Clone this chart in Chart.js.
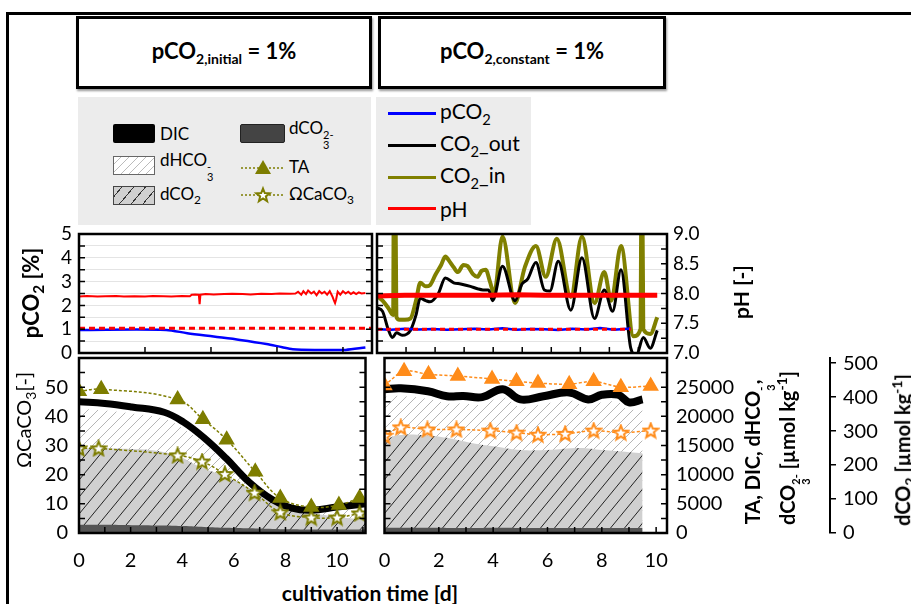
<!DOCTYPE html>
<html>
<head>
<meta charset="utf-8">
<script src="https://cdn.jsdelivr.net/npm/chart.js@4.4.1/dist/chart.umd.min.js"></script>
<style>
body { margin: 0; width: 911px; height: 604px; overflow: hidden; background: #fff; position: relative; font-family: Lato, "Open Sans", sans-serif; color: #000; }
.abs { position: absolute; }
canvas { position: absolute; }
.frame { left: 6px; top: 12px; width: 930px; height: 620px; border-left: 3px solid #000; border-top: 3px solid #000; }
.tbox { top: 16px; height: 67px; border: 3px solid #000; box-shadow: 1px 2px 2px #999; display: flex; align-items: center; justify-content: center; font-weight: bold; font-size: 22px; background: #fff; }
.tbox sub { font-size: 14px; }
.leg { top: 97px; height: 128px; background: #ececec; }
.sw { width: 42px; height: 19px; box-sizing: border-box; }
.lt { font-size: 17px; transform: translateY(-50%); white-space: nowrap; }
.rt { font-size: 21px; transform: translateY(-50%); white-space: nowrap; }
.ln { width: 48px; height: 3px; }
.ss { display: inline-flex; flex-direction: column; font-size: 11px; line-height: 10px; vertical-align: -5px; }
.rot { transform: translate(-50%, -50%) rotate(-90deg); white-space: nowrap; font-weight: bold; }
sub, sup { font-size: 70%; }
</style>
</head>
<body>
<div class="abs frame"></div>
<div class="abs tbox" style="left:76px;width:290px"><span>pCO<sub>2,initial</sub> = 1%</span></div>
<div class="abs tbox" style="left:378px;width:282px"><span>pCO<sub>2,constant</sub> = 1%</span></div>

<div class="abs leg" style="left:78px;width:293px"></div>
<div class="abs leg" style="left:376px;width:155px"></div>

<div class="abs sw" style="left:113px;top:124px;background:#000;border-radius:2px"></div>
<div class="abs lt" style="left:160px;top:133px">DIC</div>
<div class="abs sw" style="left:113px;top:156px;border:1.5px solid #666;background:repeating-linear-gradient(-45deg,#fff 0 5px,#bbb 5px 6px)"></div>
<div class="abs lt" style="left:160px;top:165px">dHCO<span class="ss"><span>-</span><span>3</span></span></div>
<div class="abs sw" style="left:113px;top:186px;border:1.5px solid #444;background:repeating-linear-gradient(-50deg,#d0d0d0 0 8px,#333 8px 9px)"></div>
<div class="abs lt" style="left:160px;top:195px">dCO<sub>2</sub></div>
<div class="abs sw" style="left:240px;top:124px;width:45px;background:#444;border:1px solid #222;border-radius:2px"></div>
<div class="abs lt" style="left:289px;top:133px">dCO<span class="ss"><span>2-</span><span>3</span></span></div>
<svg class="abs" style="left:240px;top:157px" width="46" height="20">
  <line x1="1" y1="11" x2="45" y2="11" stroke="#7d7d00" stroke-width="1.5" stroke-dasharray="2,2"/>
  <polygon points="23,3 31,17 15,17" fill="#7d7d00"/>
</svg>
<div class="abs lt" style="left:289px;top:166px">TA</div>
<svg class="abs" style="left:240px;top:185px" width="46" height="20">
  <line x1="1" y1="10" x2="45" y2="10" stroke="#7d7d00" stroke-width="1.5" stroke-dasharray="2,2"/>
  <polygon transform="translate(23,10.5)" points="0,-7 1.76,-2.43 6.66,-2.16 2.85,0.93 4.11,5.66 0,3 -4.11,5.66 -2.85,0.93 -6.66,-2.16 -1.76,-2.43" fill="#fff" stroke="#7d7d00" stroke-width="2"/>
</svg>
<div class="abs lt" style="left:289px;top:195px">ΩCaCO<sub>3</sub></div>

<div class="abs ln" style="left:388px;top:112px;background:#0000ff"></div>
<div class="abs rt" style="left:440px;top:113px">pCO<sub>2</sub></div>
<div class="abs ln" style="left:388px;top:144px;background:#000"></div>
<div class="abs rt" style="left:440px;top:145px">CO<sub>2</sub>_out</div>
<div class="abs ln" style="left:388px;top:176px;background:#808000"></div>
<div class="abs rt" style="left:440px;top:177px">CO<sub>2</sub>_in</div>
<div class="abs ln" style="left:388px;top:207px;background:#ff0000"></div>
<div class="abs rt" style="left:440px;top:208px">pH</div>

<canvas id="cBL" width="375" height="234" style="left:0;top:338px"></canvas>
<canvas id="cBR" width="536" height="234" style="left:375px;top:338px"></canvas>
<canvas id="cTL" width="375" height="150" style="left:0;top:218px"></canvas>
<canvas id="cTR" width="375" height="150" style="left:375px;top:218px"></canvas>

<div class="abs rot" style="left:32px;top:293px;font-size:22px">pCO<sub>2</sub> [%]</div>
<div class="abs rot" style="left:25px;top:420px;font-size:20px;font-weight:normal">ΩCaCO<sub>3</sub>[-]</div>
<div class="abs rot" style="left:740px;top:292px;font-size:21px">pH [-]</div>
<div class="abs rot" style="left:758px;top:452px;font-size:20px">TA, DIC, dHCO<span class="ss"><span>-</span><span>3</span></span>,</div>
<div class="abs rot" style="left:792px;top:448px;font-size:20px">dCO<span class="ss"><span>2-</span><span>3</span></span> [µmol kg<sup>-1</sup>]</div>
<div class="abs rot" style="left:903px;top:450px;font-size:20px">dCO<sub>2</sub> [µmol kg<sup>-1</sup>]</div>
<div class="abs" style="left:370px;top:592px;transform:translate(-50%,-50%);font-weight:bold;font-size:21px;white-space:nowrap">cultivation time [d]</div>

<script>
// top left panel: pCO2,initial = 1%
const tlPco2Day = [0, 3.3, 4.1, 5.1, 6.1, 7.1, 7.7, 8.1, 9.0, 10.1, 10.85];
const tlPco2 = [0.97, 0.97, 0.83, 0.69, 0.55, 0.38, 0.24, 0.16, 0.13, 0.13, 0.23];
const tlSetDay = [0, 11.1];
const tlSet = [1.04, 1.04];
const tlPhDay = [0, 0.3, 0.7, 1.0, 1.4, 1.7, 2.1, 2.5, 2.8, 3.2,
  3.5, 3.9, 4.2, 4.27, 4.4, 4.54, 4.57, 4.6, 4.8, 5.1,
  5.5, 5.8, 6.2, 6.5, 6.9, 7.3, 7.6, 8.0, 8.2, 8.3,
  8.42, 8.5, 8.6, 8.68, 8.8, 8.9, 9.0, 9.1, 9.2, 9.3,
  9.4, 9.5, 9.6, 9.66, 9.7, 9.74, 9.8, 9.9, 10.0, 10.1,
  10.2, 10.3, 10.4, 10.5, 10.6, 10.7, 10.85];
const tlPh = [7.95, 7.96, 7.95, 7.955, 7.96, 7.95, 7.955, 7.95, 7.96, 7.955,
  7.95, 7.96, 7.955, 7.98, 7.985, 7.98, 7.82, 7.98, 7.99, 7.985,
  7.99, 7.995, 7.99, 7.985, 7.995, 7.99, 8.0, 7.995, 8.0, 8.03,
  7.98, 8.04, 7.99, 8.05, 8.0, 8.03, 7.97, 8.04, 8.0, 8.03,
  7.98, 8.04, 7.95, 7.88, 7.84, 7.9, 8.03, 7.98, 8.04, 8.0,
  8.03, 7.99, 8.02, 7.99, 8.02, 8.0, 8.01];

// top right panel: pCO2,constant = 1%
const trPhDay = [0, 1, 2, 3, 4, 5, 6, 7, 8, 9, 10.05];
const trPh = [7.96, 7.97, 7.97, 7.97, 7.97, 7.98, 7.97, 7.97, 7.97, 7.97, 7.97];
const trPco2Day = [0, 0.5, 1, 1.5, 2, 2.5, 3, 3.5, 4, 4.5, 5, 5.5, 6, 6.5, 7, 7.5, 8, 8.5, 9.1];
const trPco2 = [1.0, 0.98, 1.02, 0.99, 1.01, 0.98, 1.0, 1.02, 0.99, 1.04, 0.98, 1.01, 1.0, 0.97, 1.02, 0.99, 1.05, 0.98, 1.03];
const trSetDay = [0, 9.1];
const trSet = [1.0, 1.0];
const trInDay = [0, 0.2, 0.4, 0.58, 0.6, 0.66, 0.7, 0.8, 1.0, 1.2, 1.4, 1.55, 1.75, 1.9, 2.1, 2.3, 2.45, 2.6, 2.75, 2.9,
  3.1, 3.25, 3.45, 3.6, 3.75, 3.9, 4.05, 4.2, 4.5, 4.95, 5.3, 5.7, 6.05, 6.45, 6.95, 7.35, 7.8, 8.15, 8.4, 8.75,
  9.2, 9.45, 9.48, 9.52, 9.55, 9.8, 10.05];
const trIn = [2.4, 2.2, 1.9, 1.6, 6, 6, 1.5, 1.4, 1.4, 1.45, 2.2, 2.95, 2.8, 2.85, 3.3, 3.7, 4.05, 3.85, 3.6, 3.4,
  3.7, 3.65, 3.3, 3.2, 3.45, 3.5, 3.0, 2.5, 4.9, 2.1, 3.6, 4.5, 3.2, 4.8, 2.35, 4.9, 2.1, 3.4, 2.2, 4.5,
  0.7, 1.0, 6, 6, 1.0, 0.8, 1.5];
const trOutDay = [0, 0.2, 0.4, 0.55, 0.7, 0.9, 1.2, 1.4, 1.55, 1.75, 1.9, 2.2, 2.45, 2.75, 3.0, 3.35, 3.6, 3.8, 4.0, 4.15,
  4.5, 4.95, 5.2, 5.4, 5.7, 6.0, 6.2, 6.5, 6.95, 7.35, 7.8, 8.15, 8.45, 8.75, 9.1, 9.3, 9.55, 9.8, 10.05];
const trOut = [1.9, 1.75, 1.0, 0.65, 0.85, 0.75, 0.95, 1.6, 2.3, 2.2, 2.15, 2.5, 3.15, 2.95, 2.9, 2.8, 2.7, 2.65, 2.65, 2.2,
  3.65, 2.2, 2.9, 3.1, 3.8, 2.65, 2.6, 3.85, 1.8, 4.0, 1.45, 2.65, 1.75, 3.5, 0.2, -0.1, 0.65, 0.2, 0.95];

// bottom left panel (umol/kg, dCO2 on its own axis, Omega unitless)
const blDicDay = [0, 1, 2.05, 3.3, 4.05, 4.85, 5.7, 6.6, 7.5, 8.25, 9.0, 10.0, 11.1];
const blDic = [22500, 22200, 21600, 20700, 19000, 16300, 12800, 8700, 5700, 4250, 3900, 4450, 5000];
const blHco3 = [21300, 21000, 20500, 19600, 17900, 15300, 11900, 7900, 5000, 3600, 3300, 3800, 4300];
const blCo3 = [1400, 1400, 1350, 1300, 1200, 1050, 900, 800, 700, 650, 600, 600, 600];
const blCo2Day = [0, 1, 3.5, 4.8, 5.8, 6.6, 7.5, 8.5, 9.5, 11.1];
const blCo2 = [250, 250, 235, 191, 162, 132, 88, 68, 53, 38];
const blTaDay = [0, 0.86, 3.82, 4.8, 5.72, 6.83, 7.8, 9.0, 10.07, 10.87];
const blTa = [24300, 24650, 22900, 19500, 16000, 10500, 6000, 4450, 4800, 6000];
const blOmDay = [0, 0.76, 3.82, 4.77, 5.65, 6.8, 7.8, 9.0, 10.0, 10.87];
const blOm = [29, 29, 26.6, 24.5, 20.2, 13.8, 7.1, 5.3, 5.3, 6.7];

// bottom right panel
const brDicDay = [0, 0.6, 1.6, 2.3, 2.9, 3.6, 4.35, 5.0, 5.85, 6.8, 7.5, 8.0, 8.6, 9.0, 9.5];
const brDic = [24650, 24800, 24300, 23450, 23500, 23300, 24650, 22900, 23450, 24100, 22900, 23700, 23700, 22400, 22900];
const brHco3 = [23300, 23500, 23000, 22200, 22200, 22000, 23300, 21600, 22100, 22800, 21600, 22400, 22400, 21100, 21600];
const brCo3 = [900, 900, 880, 870, 870, 860, 880, 850, 860, 870, 850, 860, 860, 840, 850];
const brCo2Day = [0, 0.5, 1.5, 2.3, 3.2, 4.2, 5.0, 6.0, 7.2, 8.0, 9.0, 9.5];
const brCo2 = [274, 288, 288, 280, 265, 253, 244, 244, 250, 244, 238, 235];
const brTaDay = [0, 0.72, 1.62, 2.7, 3.96, 4.86, 5.65, 6.8, 7.7, 8.7, 9.8];
const brTa = [25300, 27750, 27200, 26900, 26400, 26000, 25700, 25500, 26000, 25000, 25200];
const brOmDay = [0, 0.6, 1.58, 2.65, 3.9, 4.86, 5.65, 6.65, 7.7, 8.7, 9.8];
const brOm = [33.3, 36.2, 35.5, 35.5, 35.1, 34.4, 33.7, 34, 35.1, 34.4, 35.1];

const OLIVE = '#7d7d00';
const ORANGE = '#ff8c1a';

Chart.defaults.font.family = 'Lato, "Open Sans", sans-serif';
Chart.defaults.color = '#000';

const pts = (xs, ys) => xs.map((x, i) => ({x, y: ys[i]}));

// fixed axis size, no extra padding for edge labels
const fit = (w, h) => s => {
  if (w !== null) s.width = w;
  if (h !== null) s.height = h;
  s.paddingTop = 0; s.paddingBottom = 0; s.paddingLeft = 0; s.paddingRight = 0;
};

function hatch(ctx, bg, fg, w, h, lw) {
  const c = document.createElement('canvas');
  c.width = w; c.height = h;
  const g = c.getContext('2d');
  g.fillStyle = bg;
  g.fillRect(0, 0, w, h);
  g.strokeStyle = fg;
  g.lineWidth = lw;
  g.beginPath();
  g.moveTo(-w, 2 * h); g.lineTo(2 * w, -h);
  g.moveTo(-2 * w, 2 * h); g.lineTo(w, -h);
  g.moveTo(0, 2 * h); g.lineTo(3 * w, -h);
  g.stroke();
  return ctx.createPattern(c, 'repeat');
}

function starImg(color) {
  const c = document.createElement('canvas');
  c.width = 18; c.height = 18;
  const g = c.getContext('2d');
  g.beginPath();
  for (let k = 0; k < 10; k++) {
    const r = k % 2 ? 3.3 : 7.6;
    const a = (-90 + k * 36) * Math.PI / 180;
    const px = 9 + r * Math.cos(a), py = 9.5 + r * Math.sin(a);
    k ? g.lineTo(px, py) : g.moveTo(px, py);
  }
  g.closePath();
  g.fillStyle = '#fff';
  g.fill();
  g.strokeStyle = color;
  g.lineWidth = 2;
  g.stroke();
  return c;
}

// inward tick marks + panel frame
const frameTicks = {
  id: 'frameTicks',
  afterDatasetsDraw(chart, args, opts) {
    const {ctx, chartArea: a} = chart;
    ctx.save();
    ctx.strokeStyle = '#000';
    ctx.lineWidth = 1.5;
    (opts.marks || []).forEach(m => {
      const s = chart.scales[m.scale];
      ctx.beginPath();
      for (let i = 1; ; i++) {
        const v = s.min + i * m.step;
        if (v >= s.max - 1e-6) break;
        const p = s.getPixelForValue(v);
        if (m.side === 'left') { ctx.moveTo(a.left, p); ctx.lineTo(a.left + m.len, p); }
        if (m.side === 'right') { ctx.moveTo(a.right, p); ctx.lineTo(a.right - m.len, p); }
        if (m.side === 'bottom') { ctx.moveTo(p, a.bottom); ctx.lineTo(p, a.bottom - m.len); }
      }
      ctx.stroke();
    });
    ctx.lineWidth = 2.5;
    ctx.strokeRect(a.left, a.top, a.right - a.left, a.bottom - a.top);
    ctx.restore();
  }
};

const hidden = (min, max, pos) => ({type: 'linear', min, max, display: false, position: pos || 'left'});

function baseOptions(padding, scales, marks) {
  return {
    responsive: false,
    animation: false,
    devicePixelRatio: 1,
    layout: {padding},
    elements: {point: {radius: 0, hoverRadius: 0}, line: {tension: 0, fill: false}},
    scales,
    plugins: {legend: {display: false}, tooltip: {enabled: false}, frameTicks: {marks}}
  };
}

// ---- top left
new Chart(document.getElementById('cTL'), {
  type: 'line',
  data: {datasets: [
    {data: pts(tlSetDay, tlSet), borderColor: '#ff0000', borderWidth: 3, borderDash: [6, 4], yAxisID: 'y'},
    {data: pts(tlPco2Day, tlPco2), borderColor: '#0000ff', borderWidth: 2.5, yAxisID: 'y', tension: 0.3},
    {data: pts(tlPhDay, tlPh), borderColor: '#ff0000', borderWidth: 2, yAxisID: 'y2'}
  ]},
  options: baseOptions({top: 16, bottom: 15, left: 0, right: 3}, {
    x: hidden(0, 11.1),
    y: {type: 'linear', min: 0, max: 5, position: 'left',
      afterFit: fit(79, null),
      grid: {color: '#e4e4e4', drawTicks: false}, border: {display: false},
      ticks: {stepSize: 0.5, autoSkip: false, includeBounds: false, padding: 7, font: {size: 19},
        callback: v => Number.isInteger(v) ? v : ''}},
    y2: hidden(7, 9, 'right')
  }, [
    {scale: 'y', side: 'left', step: 0.5, len: 6},
    {scale: 'y', side: 'right', step: 0.5, len: 6},
    {scale: 'x', side: 'bottom', step: 2.5, len: 6}
  ]),
  plugins: [frameTicks]
});

// ---- top right
new Chart(document.getElementById('cTR'), {
  type: 'line',
  data: {datasets: [
    {data: pts(trSetDay, trSet), borderColor: '#ff0000', borderWidth: 3, borderDash: [5, 4], yAxisID: 'y'},
    {data: pts(trPco2Day, trPco2), borderColor: '#0000ff', borderWidth: 2.5, yAxisID: 'y'},
    {data: pts(trPhDay, trPh), borderColor: '#ff0000', borderWidth: 5, yAxisID: 'y2'},
    {data: pts(trOutDay, trOut), borderColor: '#000', borderWidth: 3, yAxisID: 'y', clip: 0, cubicInterpolationMode: 'monotone'},
    {data: pts(trInDay, trIn), borderColor: '#808000', borderWidth: 4, yAxisID: 'y', clip: 0, cubicInterpolationMode: 'monotone'}
  ]},
  options: baseOptions({top: 16, bottom: 15, left: 2, right: 0}, {
    x: hidden(0, 10.4),
    y: {type: 'linear', min: 0, max: 5, position: 'left',
      afterFit: fit(0, null),
      grid: {color: '#e4e4e4', drawTicks: false}, border: {display: false},
      ticks: {display: false, stepSize: 0.5, includeBounds: false}},
    y2: {type: 'linear', min: 7, max: 9, position: 'right',
      afterFit: fit(83, null),
      grid: {display: false, drawTicks: false}, border: {display: false},
      ticks: {stepSize: 0.5, autoSkip: false, padding: 6, font: {size: 19}, callback: v => v.toFixed(1)}}
  }, [
    {scale: 'y', side: 'left', step: 0.5, len: 6},
    {scale: 'y2', side: 'right', step: 0.25, len: 6},
    {scale: 'x', side: 'bottom', step: 25 / 24, len: 6}
  ]),
  plugins: [frameTicks]
});

function xAxis(max) {
  return {type: 'linear', min: 0, max, position: 'bottom',
    afterFit: fit(null, 39),
    grid: {display: false, drawTicks: false}, border: {display: false},
    ticks: {stepSize: 2, autoSkip: false, includeBounds: false, maxRotation: 0, padding: 16, font: {size: 20},
      callback: v => (v % 2 === 0 && v <= 10) ? v : ''}};
}

// ---- bottom left
const ctxBL = document.getElementById('cBL').getContext('2d');
const olStar = starImg(OLIVE);
new Chart(ctxBL, {
  type: 'line',
  data: {datasets: [
    {data: pts(blTaDay, blTa), yAxisID: 'yc', borderColor: OLIVE, borderWidth: 1.5, borderDash: [3, 2], tension: 0.4,
      pointStyle: 'triangle', pointRadius: 8, pointBackgroundColor: OLIVE, pointBorderColor: OLIVE},
    {data: pts(blOmDay, blOm), yAxisID: 'y', borderColor: OLIVE, borderWidth: 1.5, borderDash: [3, 2], tension: 0.4,
      pointStyle: olStar, pointRadius: 8},
    {data: pts(blDicDay, blDic), yAxisID: 'yc', borderColor: '#000', borderWidth: 7, tension: 0.4},
    {data: pts(blDicDay, blCo3), yAxisID: 'yc', borderWidth: 0, fill: 'origin', backgroundColor: '#555', tension: 0.4},
    {data: pts(blCo2Day, blCo2), yAxisID: 'yd', borderWidth: 0, fill: 'origin', tension: 0.4,
      backgroundColor: hatch(ctxBL, '#d0d0d0', '#222', 14, 17, 1)},
    {data: pts(blDicDay, blHco3), yAxisID: 'yc', borderWidth: 0, fill: 'origin', tension: 0.4,
      backgroundColor: hatch(ctxBL, '#fff', '#b5b5b5', 10, 10, 1)}
  ]},
  options: baseOptions({top: 20, bottom: 0, left: 0, right: 3}, {
    x: xAxis(11.1),
    y: {type: 'linear', min: 0, max: 60, position: 'left',
      afterFit: fit(79, null),
      grid: {display: false, drawTicks: false}, border: {display: false},
      ticks: {stepSize: 10, autoSkip: false, includeBounds: false, padding: 11, font: {size: 20},
        callback: v => v <= 50 ? v : ''}},
    yc: hidden(0, 30000, 'right'),
    yd: hidden(0, 515, 'right')
  }, [
    {scale: 'y', side: 'left', step: 5, len: 6},
    {scale: 'y', side: 'right', step: 5, len: 6},
    {scale: 'x', side: 'bottom', step: 1, len: 6}
  ]),
  plugins: [frameTicks]
});

// ---- bottom right
const ctxBR = document.getElementById('cBR').getContext('2d');
const orStar = starImg(ORANGE);
new Chart(ctxBR, {
  type: 'line',
  data: {datasets: [
    {data: pts(brTaDay, brTa), yAxisID: 'yr', borderColor: ORANGE, borderWidth: 1.5, borderDash: [3, 2], tension: 0.3,
      pointStyle: 'triangle', pointRadius: 8, pointBackgroundColor: ORANGE, pointBorderColor: ORANGE},
    {data: pts(brOmDay, brOm), yAxisID: 'y', borderColor: ORANGE, borderWidth: 1.5, borderDash: [3, 2], tension: 0.3,
      pointStyle: orStar, pointRadius: 8},
    {data: pts(brDicDay, brDic), yAxisID: 'yr', borderColor: '#000', borderWidth: 8, tension: 0.4},
    {data: pts(brDicDay, brCo3), yAxisID: 'yr', borderWidth: 0, fill: 'origin', backgroundColor: '#555', tension: 0.4},
    {data: pts(brCo2Day, brCo2), yAxisID: 'yd', borderWidth: 0, fill: 'origin', tension: 0.4,
      backgroundColor: hatch(ctxBR, '#d0d0d0', '#222', 14, 17, 1)},
    {data: pts(brDicDay, brHco3), yAxisID: 'yr', borderWidth: 0, fill: 'origin', tension: 0.4,
      backgroundColor: hatch(ctxBR, '#fff', '#b5b5b5', 10, 10, 1)}
  ]},
  options: baseOptions({top: 20, bottom: 0, left: 2, right: 0}, {
    x: xAxis(10.4),
    y: hidden(0, 60),
    yr: {type: 'linear', min: 0, max: 30000, position: 'right', weight: 0,
      afterFit: fit(163, null),
      grid: {display: false, drawTicks: false}, border: {display: false},
      ticks: {stepSize: 5000, autoSkip: false, includeBounds: false, padding: 9, font: {size: 20},
        callback: v => v <= 25000 ? v : ''}},
    yd: {type: 'linear', min: 0, max: 515, position: 'right', weight: 1,
      afterFit: fit(81, null),
      grid: {display: true, drawOnChartArea: false, drawTicks: true, tickLength: 6, color: '#000', lineWidth: 1.5},
      border: {display: true, color: '#000', width: 2},
      ticks: {stepSize: 100, autoSkip: false, includeBounds: false, padding: 7, font: {size: 20}}}
  }, [
    {scale: 'y', side: 'left', step: 5, len: 6},
    {scale: 'yr', side: 'right', step: 2500, len: 6},
    {scale: 'x', side: 'bottom', step: 1, len: 6}
  ]),
  plugins: [frameTicks]
});
</script>
</body>
</html>
